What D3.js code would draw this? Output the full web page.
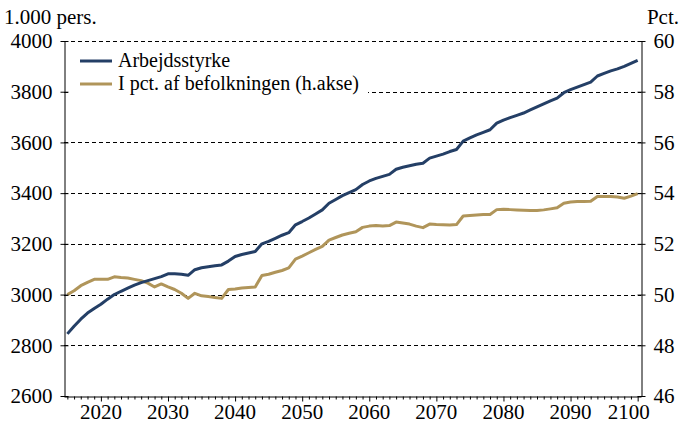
<!DOCTYPE html>
<html>
<head>
<meta charset="utf-8">
<script src="https://cdn.jsdelivr.net/npm/d3@7"></script>
<style>
  body { margin: 0; background: #fff; }
  svg text { font-family: "Liberation Serif", "DejaVu Serif", "Times New Roman", serif !important; fill: #000; }
</style>
</head>
<body>
<div class="graphic"></div>
<script>
// years 2015-2100, one value per year
var years = d3.range(2015, 2101);

// Arbejdsstyrke, 1.000 pers. (left axis)
var arbejdsstyrke = [
  2845, 2875, 2903, 2927, 2945, 2962, 2982, 3000, 3013, 3025,
  3037, 3047, 3055, 3063, 3071, 3082, 3082, 3080, 3076, 3098,
  3106, 3110, 3114, 3117, 3132, 3150, 3158, 3164, 3170, 3200,
  3210, 3222, 3234, 3244, 3275, 3288, 3302, 3318, 3334, 3360,
  3375, 3390, 3402, 3414, 3434, 3448, 3458, 3466, 3474, 3494,
  3502, 3508, 3514, 3518, 3538, 3546, 3554, 3564, 3572, 3605,
  3618, 3630, 3640, 3650, 3676, 3688, 3698, 3707, 3716, 3728,
  3740, 3752, 3764, 3775, 3796, 3808, 3818, 3828, 3838, 3862,
  3872, 3882, 3890, 3900, 3912, 3924
];

// I pct. af befolkningen (right axis)
var andel = [
  50.00, 50.15, 50.35, 50.48, 50.60, 50.60, 50.60, 50.70, 50.67, 50.65,
  50.60, 50.55, 50.45, 50.30, 50.42, 50.30, 50.20, 50.05, 49.85, 50.05,
  49.95, 49.92, 49.88, 49.85, 50.20, 50.22, 50.26, 50.28, 50.30, 50.75,
  50.80, 50.88, 50.95, 51.05, 51.40, 51.52, 51.65, 51.78, 51.90, 52.15,
  52.25, 52.35, 52.42, 52.48, 52.65, 52.70, 52.72, 52.70, 52.72, 52.86,
  52.82, 52.78, 52.70, 52.64, 52.78, 52.76, 52.75, 52.74, 52.76, 53.10,
  53.12, 53.14, 53.16, 53.16, 53.35, 53.36, 53.35, 53.34, 53.33, 53.32,
  53.32, 53.34, 53.38, 53.42, 53.60, 53.65, 53.67, 53.67, 53.68, 53.87,
  53.87, 53.87, 53.85, 53.80, 53.88, 53.98
];

var leftTicks = [2600, 2800, 3000, 3200, 3400, 3600, 3800, 4000];
var rightTicks = [46, 48, 50, 52, 54, 56, 58, 60];
var xTicks = [2020, 2030, 2040, 2050, 2060, 2070, 2080, 2090, 2100];

var seriesNames = ["Arbejdsstyrke", "I pct. af befolkningen (h.akse)"];
var colors = ["#243f66", "#b0955a"];

var fontFam = "'Liberation Serif', 'DejaVu Serif', serif";
var width = 682, height = 424;
var m = {left: 64, right: 41, top: 41, bottom: 28};

var svg = d3.select(".graphic").append("svg")
  .attr("width", width)
  .attr("height", height)
  .attr("font-family", fontFam);

var x = d3.scaleLinear().domain([2014.5, 2100.5]).range([m.left, width - m.right]);
var yL = d3.scaleLinear().domain([2600, 4000]).range([height - m.bottom, m.top]);
var yR = d3.scaleLinear().domain([46, 60]).range([height - m.bottom, m.top]);

// gridlines
svg.append("g")
  .selectAll("line")
  .data(leftTicks.slice(1))
  .join("line")
  .attr("x1", m.left)
  .attr("x2", width - m.right)
  .attr("y1", d => Math.round(yL(d)) + 0.5)
  .attr("y2", d => Math.round(yL(d)) + 0.5)
  .attr("stroke", "#000")
  .attr("stroke-width", 1)
  .attr("stroke-dasharray", "4,3");

// legend background hides the grid behind it
svg.append("rect")
  .attr("x", m.left + 4)
  .attr("y", 48)
  .attr("width", 300)
  .attr("height", 50)
  .attr("fill", "#fff");

// lines
var lineL = d3.line().x((d, i) => x(years[i])).y(d => yL(d));
var lineR = d3.line().x((d, i) => x(years[i])).y(d => yR(d));

svg.append("path")
  .datum(andel)
  .attr("d", lineR)
  .attr("fill", "none")
  .attr("stroke", colors[1])
  .attr("stroke-width", 3)
  .attr("stroke-linejoin", "round");

svg.append("path")
  .datum(arbejdsstyrke)
  .attr("d", lineL)
  .attr("fill", "none")
  .attr("stroke", colors[0])
  .attr("stroke-width", 3)
  .attr("stroke-linejoin", "round");

// axes
var axL = svg.append("g")
  .attr("transform", `translate(${m.left + 0.5},0)`)
  .call(d3.axisLeft(yL).tickValues(leftTicks).tickFormat(d3.format("d")).tickSize(4).tickPadding(8).tickSizeOuter(0));
axL.selectAll(".tick line").attr("x2", 4).attr("x1", -4);

var axR = svg.append("g")
  .attr("transform", `translate(${width - m.right + 0.5},0)`)
  .call(d3.axisRight(yR).tickValues(rightTicks).tickSize(4).tickPadding(8).tickSizeOuter(0));
axR.selectAll(".tick line").attr("x1", -4).attr("x2", 4);

var axB = svg.append("g")
  .attr("transform", `translate(0,${height - m.bottom + 0.5})`)
  .call(d3.axisBottom(x).tickValues(years).tickSize(3).tickFormat("").tickSizeOuter(0));
axB.selectAll(".tick line")
  .attr("y2", d => xTicks.includes(d) ? 5 : 3);

svg.selectAll("g").attr("font-family", fontFam).attr("font-size", 21);

var xLab = svg.append("g")
  .selectAll("text")
  .data(xTicks)
  .join("text")
  .attr("x", d => x(d))
  .attr("y", height - 5)
  .attr("text-anchor", "middle")
  .attr("font-size", 21)
  .text(d => d);
xLab.filter(d => d === 2100).attr("dx", -9);

svg.selectAll(".domain").attr("stroke", "#000").attr("stroke-width", 1);
svg.selectAll(".tick line").attr("stroke", "#000");
svg.selectAll(".tick text").attr("font-size", 21);

// unit labels
svg.append("text")
  .attr("x", 4)
  .attr("y", 24)
  .attr("font-size", 21)
  .text("1.000 pers.");

svg.append("text")
  .attr("x", width - 3)
  .attr("y", 24)
  .attr("text-anchor", "end")
  .attr("font-size", 21)
  .text("Pct.");

// legend
var leg = svg.append("g")
  .selectAll("g")
  .data(seriesNames)
  .join("g")
  .attr("transform", (d, i) => `translate(80,${61 + i * 23})`);

leg.append("line")
  .attr("x1", 0)
  .attr("x2", 32)
  .attr("stroke", (d, i) => colors[i])
  .attr("stroke-width", 3);

leg.append("text")
  .attr("x", 38)
  .attr("dy", "0.32em")
  .attr("font-size", 20)
  .text(d => d);
</script>
</body>
</html>
